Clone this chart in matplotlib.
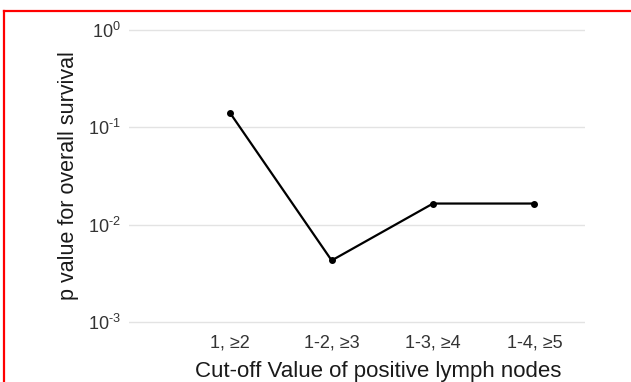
import numpy as np
import matplotlib.pyplot as plt
from matplotlib.lines import Line2D

plt.rcParams['font.family'] = ['Liberation Sans', 'DejaVu Sans']
plt.rcParams['mathtext.fontset'] = 'custom'
plt.rcParams['mathtext.rm'] = 'Liberation Sans'

cutoffs = ['1, ≥2', '1-2, ≥3', '1-3, ≥4', '1-4, ≥5']
p_values = [0.139, 0.0043, 0.0165, 0.0165]
y_ticks = [1e-3, 1e-2, 1e-1, 1e0]
y_tick_labels = [r'$\mathregular{10^{\text{-}3}}$', r'$\mathregular{10^{\text{-}2}}$',
                 r'$\mathregular{10^{\text{-}1}}$', r'$\mathregular{10^{0}}$']

fig = plt.figure(figsize=(6.31, 3.82), dpi=100)
ax = fig.add_axes([129 / 631, 1 - 330 / 382, (585 - 129) / 631, (330 - 22) / 382])

x = np.arange(1, len(cutoffs) + 1)
ax.plot(x, p_values, color='black', lw=1.6, marker='o', ms=4, zorder=3)

ax.set_yscale('log')
ax.set_ylim(10 ** -3.08, 10 ** 0.08)
ax.set_yticks(y_ticks)
ax.set_yticklabels(y_tick_labels)
ax.minorticks_off()
ax.set_xlim(0, 4.5)
ax.set_xticks(x)
ax.set_xticklabels(cutoffs)

ax.grid(axis='y', color='#e3e3e3', lw=1)
ax.set_axisbelow(True)
for s in ax.spines.values():
    s.set_visible(False)
ax.tick_params(length=0, colors='#333333')
ax.tick_params(axis='x', labelsize=13, pad=3)
ax.tick_params(axis='y', labelsize=13, pad=6)

ax.set_xlabel('Cut-off Value of positive lymph nodes', fontsize=16, color='#1a1a1a')
ax.xaxis.set_label_coords(0.546, -0.1)
ax.set_ylabel('p value for overall survival', fontsize=15.5, color='#1a1a1a', labelpad=6)

# red frame along the left and top edges
fig.add_artist(Line2D([4 / 631, 4 / 631], [0, 1 - 11 / 382], color='red', lw=1.6))
fig.add_artist(Line2D([4 / 631, 1], [1 - 11 / 382, 1 - 11 / 382], color='red', lw=1.6))

fig.savefig('out.png', dpi=100)
